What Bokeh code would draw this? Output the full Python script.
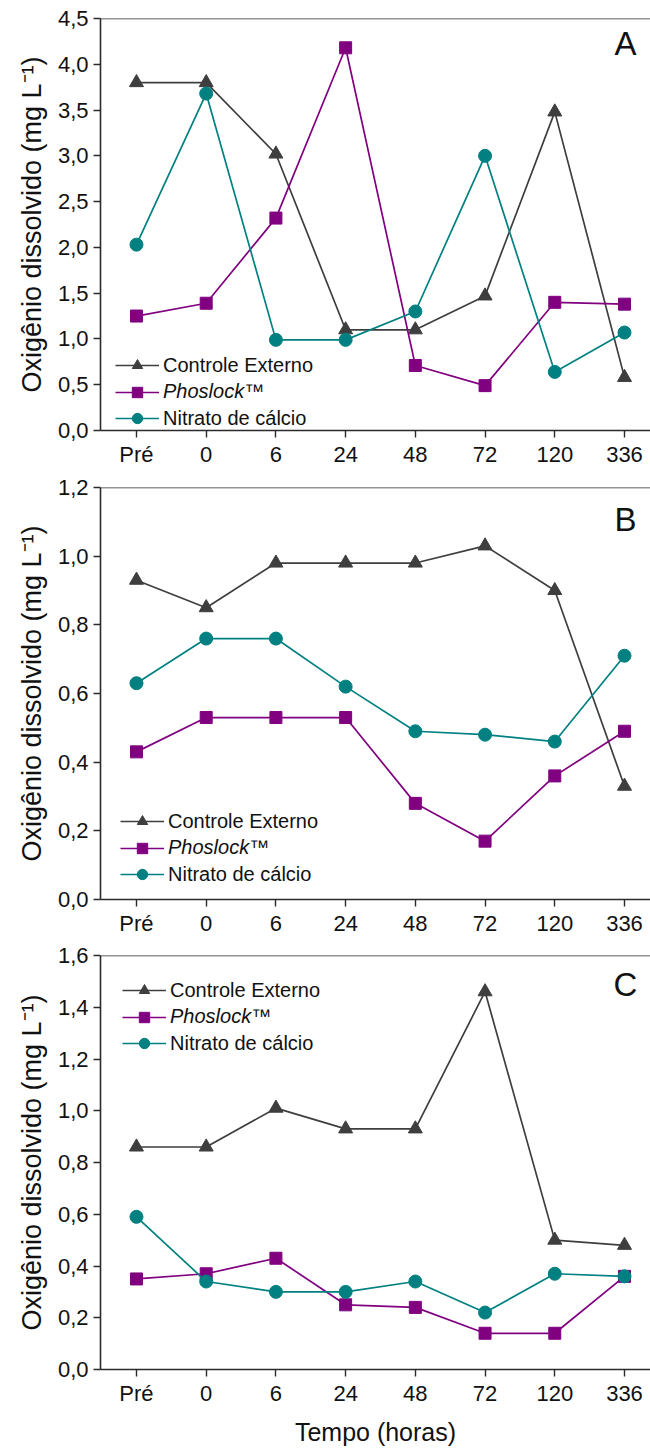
import numpy as np
from bokeh.plotting import figure
from bokeh.layouts import column
from bokeh.models import (Range1d, FixedTicker, CustomJSTickFormatter, Span,
                          Legend, LegendItem, Label)
from bokeh.embed import file_html
from bokeh.resources import INLINE

# ---------------- data ----------------
times = ["Pré", "0", "6", "24", "48", "72", "120", "336"]

a_controle = [3.80, 3.80, 3.02, 1.10, 1.10, 1.47, 3.48, 0.58]
a_phoslock = [1.25, 1.39, 2.32, 4.18, 0.71, 0.49, 1.40, 1.38]
a_nitrato = [2.03, 3.68, 0.99, 0.99, 1.30, 3.00, 0.64, 1.07]

b_controle = [0.93, 0.85, 0.98, 0.98, 0.98, 1.03, 0.90, 0.33]
b_phoslock = [0.43, 0.53, 0.53, 0.53, 0.28, 0.17, 0.36, 0.49]
b_nitrato = [0.63, 0.76, 0.76, 0.62, 0.49, 0.48, 0.46, 0.71]

c_controle = [0.86, 0.86, 1.01, 0.93, 0.93, 1.46, 0.50, 0.48]
c_phoslock = [0.35, 0.37, 0.43, 0.25, 0.24, 0.14, 0.14, 0.36]
c_nitrato = [0.59, 0.34, 0.30, 0.30, 0.34, 0.22, 0.37, 0.36]

series_names = ["Controle Externo", "Phoslock\u2122", "Nitrato de cálcio"]
panel_letters = ["A", "B", "C"]
y_max = [4.5, 1.2, 1.6]
y_step = [0.5, 0.2, 0.2]
y_label = "Oxigênio dissolvido (mg L\u207b\u00b9)"
x_label = "Tempo (horas)"

# ---------------- style ----------------
FONT = "Liberation Sans"
COLORS = ["#3e3e3e", "#800080", "#008080"]
MARKERS = ["triangle", "square", "circle"]
SIZES = [14, 12, 13]
AX = "#2b2b2b"

xs = list(range(len(times)))


def make_panel(k, series, height, top, bottom, legend_x, legend_y, letter_y, show_xlabel):
    p = figure(width=650, height=height,
               x_range=Range1d(-0.516, len(times) - 1 + 0.373),
               y_range=Range1d(0, y_max[k]),
               output_backend="svg", toolbar_location=None,
               min_border_left=100, min_border_right=0,
               min_border_top=top, min_border_bottom=bottom,
               background_fill_color="white", border_fill_color="white")
    p.outline_line_color = None
    p.grid.visible = False

    renderers = []
    for vals, col, mk, sz in zip(series, COLORS, MARKERS, SIZES):
        ln = p.line(xs, vals, line_color=col, line_width=1.7)
        sc = p.scatter(xs, vals, marker=mk, size=sz, fill_color=col, line_color=col)
        renderers.append([ln, sc])

    # x axis
    xa = p.xaxis[0]
    xa.ticker = FixedTicker(ticks=xs)
    xa.major_label_overrides = {i: t for i, t in enumerate(times)}
    # y axis
    ya = p.yaxis[0]
    ticks = list(np.round(np.arange(0, y_max[k] + y_step[k] / 2, y_step[k]), 2))
    ya.ticker = FixedTicker(ticks=ticks)
    ya.formatter = CustomJSTickFormatter(code="return tick.toFixed(1).replace('.', ',');")
    ya.axis_label = y_label
    ya.axis_label_text_font = FONT
    ya.axis_label_text_font_size = "27px"
    ya.axis_label_text_font_style = "normal"
    ya.axis_label_text_color = "#111111"
    ya.axis_label_standoff = 8
    if show_xlabel:
        xa.axis_label = x_label
        xa.axis_label_text_font = FONT
        xa.axis_label_text_font_size = "25px"
        xa.axis_label_text_font_style = "normal"
        xa.axis_label_text_color = "#111111"
        xa.axis_label_standoff = 9

    for ax in (xa, ya):
        ax.axis_line_color = AX
        ax.axis_line_width = 1.6
        ax.major_tick_line_color = AX
        ax.major_tick_line_width = 1.4
        ax.major_tick_in = 0
        ax.major_tick_out = 7
        ax.minor_tick_line_color = None
        ax.major_label_text_font = FONT
        ax.major_label_text_font_size = "22px"
        ax.major_label_text_color = "#111111"
    xa.major_label_standoff = 4
    ya.major_label_standoff = 5

    # top frame line
    p.add_layout(Span(location=y_max[k], dimension="width",
                      line_color=AX, line_width=1.6))

    # legend, one row per series (Phoslock in italics)
    row_h = 26
    for i, (name, rs) in enumerate(zip(series_names, renderers)):
        leg = Legend(items=[LegendItem(label=name, renderers=rs)],
                     location=(legend_x, legend_y - i * (row_h + 0.5)),
                     orientation="vertical",
                     glyph_width=44, glyph_height=row_h, label_height=row_h,
                     label_standoff=4, padding=0, margin=0, spacing=0,
                     border_line_color=None, background_fill_alpha=0,
                     label_text_font=FONT, label_text_font_size="20px",
                     label_text_color="#111111",
                     label_text_font_style="italic" if i == 1 else "normal")
        p.add_layout(leg)

    p.add_layout(Label(x=525, y=letter_y, x_units="screen", y_units="screen",
                       text=panel_letters[k], text_font=FONT,
                       text_font_size="33px", text_align="center",
                       text_baseline="bottom", text_color="#111111"))
    return p


pa = make_panel(0, [a_controle, a_phoslock, a_nitrato], 469, 18, 37, 15, 52, 369, False)
pb = make_panel(1, [b_controle, b_phoslock, b_nitrato], 469, 18, 37, 20, 65, 362, False)
pc = make_panel(2, [c_controle, c_phoslock, c_nitrato], 512, 17, 81, 22, 366, 367, True)

layout = column(pa, pb, pc, spacing=0)
open("out.html", "w").write(file_html(layout, INLINE))
